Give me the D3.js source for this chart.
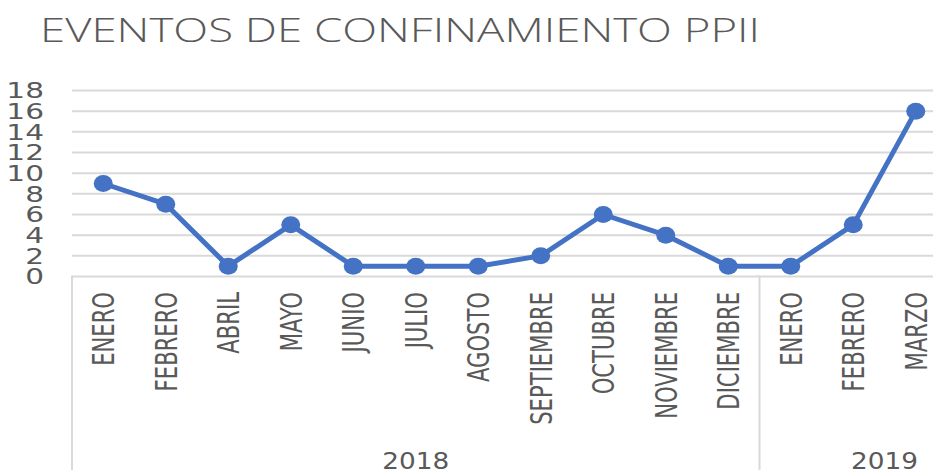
<!DOCTYPE html>
<html><head><meta charset="utf-8">
<script src="https://cdn.jsdelivr.net/npm/d3@7"></script>
<style>
html,body{margin:0;padding:0;background:#fff;overflow:hidden}
svg text{font-family:"Liberation Sans Narrow","DejaVu Sans Condensed","Liberation Sans",sans-serif;fill:#595959}
svg text.title{font-family:"Open Sans","Liberation Sans",sans-serif;font-weight:300}
</style></head>
<body><svg id="c" width="933" height="470"></svg>
<script>
const title = "EVENTOS DE CONFINAMIENTO PPII";
const categories = ["ENERO","FEBRERO","ABRIL","MAYO","JUNIO","JULIO","AGOSTO","SEPTIEMBRE","OCTUBRE","NOVIEMBRE","DICIEMBRE","ENERO","FEBRERO","MARZO"];
const values = [9,7,1,5,1,1,1,2,6,4,1,1,5,16];
const yearLabels = ["2018","2019"];
const yearCounts = [11,3];
const yTicks = [0,2,4,6,8,10,12,14,16,18];

(function(){
const svg = d3.select("#c");
const W = 933, H = 470;
const mLeft = 72, mRight = 947, mTop = 90.5, mBottom = 276.5;
const idx = categories.map((d,i)=>i);
const x = d3.scalePoint().domain(idx).range([mLeft, mRight]).padding(0.5);
const step = x.step();
const y = d3.scaleLinear().domain([0,18]).range([mBottom, mTop]);
const SX = 1.3;

// title
svg.append("text").attr("class","title").attr("x",40).attr("y",42)
  .attr("font-size",33).attr("textLength",720).attr("lengthAdjust","spacingAndGlyphs")
  .text(title);

// gridlines
svg.append("g").selectAll("line").data(yTicks).join("line")
  .attr("x1",mLeft).attr("x2",W).attr("y1",d=>y(d)).attr("y2",d=>y(d))
  .attr("stroke","#d9d9d9").attr("stroke-width",2);

// y labels
svg.append("g").selectAll("text").data(yTicks).join("text")
  .attr("text-anchor","end").attr("dy","0.36em").attr("font-size",22)
  .attr("transform",d=>`translate(44,${y(d)}) scale(${SX*1.15},1)`)
  .text(d=>d);

// vertical separators
const bounds = [0];
yearCounts.reduce((a,c)=>{bounds.push(a+c);return a+c;},0);
svg.append("g").selectAll("line").data(bounds.slice(0,-1)).join("line")
  .attr("x1",d=>mLeft+d*step).attr("x2",d=>mLeft+d*step)
  .attr("y1",mBottom-1).attr("y2",H)
  .attr("stroke","#d9d9d9").attr("stroke-width",2);

// category labels
svg.append("g").selectAll("text").data(idx).join("text")
  .attr("text-anchor","end").attr("dy","0.36em").attr("font-size",23.5)
  .attr("transform",i=>`translate(${x(i)},292) rotate(-90) scale(1,${SX})`)
  .text(i=>categories[i]);

// year labels
svg.append("g").selectAll("text").data(yearLabels).join("text")
  .attr("text-anchor","middle").attr("font-size",22.5)
  .attr("transform",(d,k)=>{
    let cx;
    if(k===0){ cx = mLeft + (bounds[0]+bounds[1])/2*step; }
    else { cx = (x(idx[idx.length-2]) + x(idx[idx.length-1]))/2; }
    return `translate(${cx},469) scale(${SX},1)`;
  })
  .text(d=>d);

// line
const line = d3.line().x((d,i)=>x(i)).y(d=>y(d));
svg.append("path").datum(values).attr("d",line)
  .attr("fill","none").attr("stroke","#4472C4").attr("stroke-width",5).attr("stroke-linejoin","round");
svg.append("g").selectAll("ellipse").data(values).join("ellipse")
  .attr("cx",(d,i)=>x(i)).attr("cy",d=>y(d)).attr("rx",9.5).attr("ry",8.5)
  .attr("fill","#4472C4");
})();
</script></body></html>
